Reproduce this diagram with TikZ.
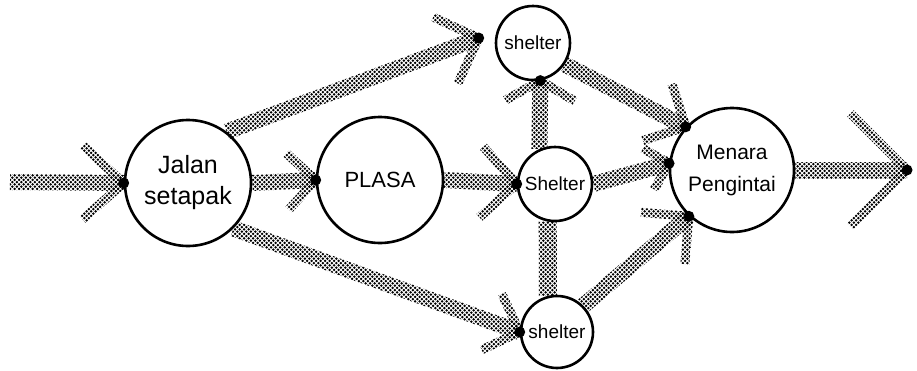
\documentclass[tikz,border=0pt]{standalone}
\usepackage{fontspec}
\setmainfont{Liberation Sans}
\usetikzlibrary{calc,patterns}
\pgfdeclarepatternformonly{halftone}{\pgfpoint{-.5pt}{-.5pt}}{\pgfpoint{5pt}{5pt}}{\pgfpoint{4.5pt}{4.5pt}}{%
  \pgfpathcircle{\pgfpoint{1.125pt}{1.125pt}}{1.35pt}%
  \pgfpathcircle{\pgfpoint{3.375pt}{3.375pt}}{1.35pt}%
  \pgfusepath{fill}}
\newcommand\bandseg[3]{%
  \fill[pattern=halftone] ($(#1)!#3!90:(#2)$) -- ($(#1)!#3!-90:(#2)$) -- ($(#2)!#3!90:(#1)$) -- ($(#2)!#3!-90:(#1)$) -- cycle;}
\newcommand\flowarrow[4]{%
  \bandseg{#1}{#2}{8pt}
  \coordinate (armA) at ($(#2)!#3!#4:(#1)$);
  \coordinate (armB) at ($(#2)!#3!-#4:(#1)$);
  \bandseg{armA}{#2}{4.5pt}
  \bandseg{armB}{#2}{4.5pt}
  \fill (#2) circle (5.5pt);}
\tikzset{
  place/.style={circle, draw, line width=2.6pt, fill=white, inner sep=0pt, align=center},
  big/.style={place, minimum size=126pt},
  small/.style={place, minimum size=74pt, font=\fontsize{19}{21}\selectfont},
}
\begin{document}
\begin{tikzpicture}[x=1pt,y=-1pt]
\useasboundingbox (0,0) rectangle (917,370);
\node[big, font=\fontsize{25}{31}\selectfont] (jalan) at (188,183) {Jalan\\setapak};
\node[big, font=\fontsize{22}{24}\selectfont] (plasa) at (380,180) {PLASA};
\node[small] (shtop) at (533,43) {shelter};
\node[small] (shmid) at (555,184) {Shelter};
\node[small, minimum size=72pt] (shbot) at (557,332) {shelter};
\node[big, minimum size=124pt, font=\fontsize{21}{32}\selectfont] (menara) at (732,170) {Menara\\Pengintai};
\coordinate (src) at (10,182);
\coordinate (out) at (907,170);
\coordinate (t3) at ($(shtop.west)+(-16,-5)$);
% arrows
\flowarrow{src}{jalan.west}{55pt}{42}
\flowarrow{jalan.east}{plasa.west}{40pt}{45}
\flowarrow{jalan.53}{t3}{50pt}{45}
\flowarrow{jalan.-45}{shbot.west}{42pt}{45}
\flowarrow{plasa.east}{shmid.west}{50pt}{45}
\flowarrow{shmid.114}{shtop.-79}{40pt}{60}
\flowarrow{shtop.-34}{menara.137}{45pt}{45}
\flowarrow{shmid.east}{menara.174}{30pt}{45}
\bandseg{shbot.104}{shmid.-101}{9pt}
\flowarrow{shbot.45}{menara.227}{48pt}{45}
\flowarrow{menara.east}{out}{80pt}{45}
\end{tikzpicture}
\end{document}
